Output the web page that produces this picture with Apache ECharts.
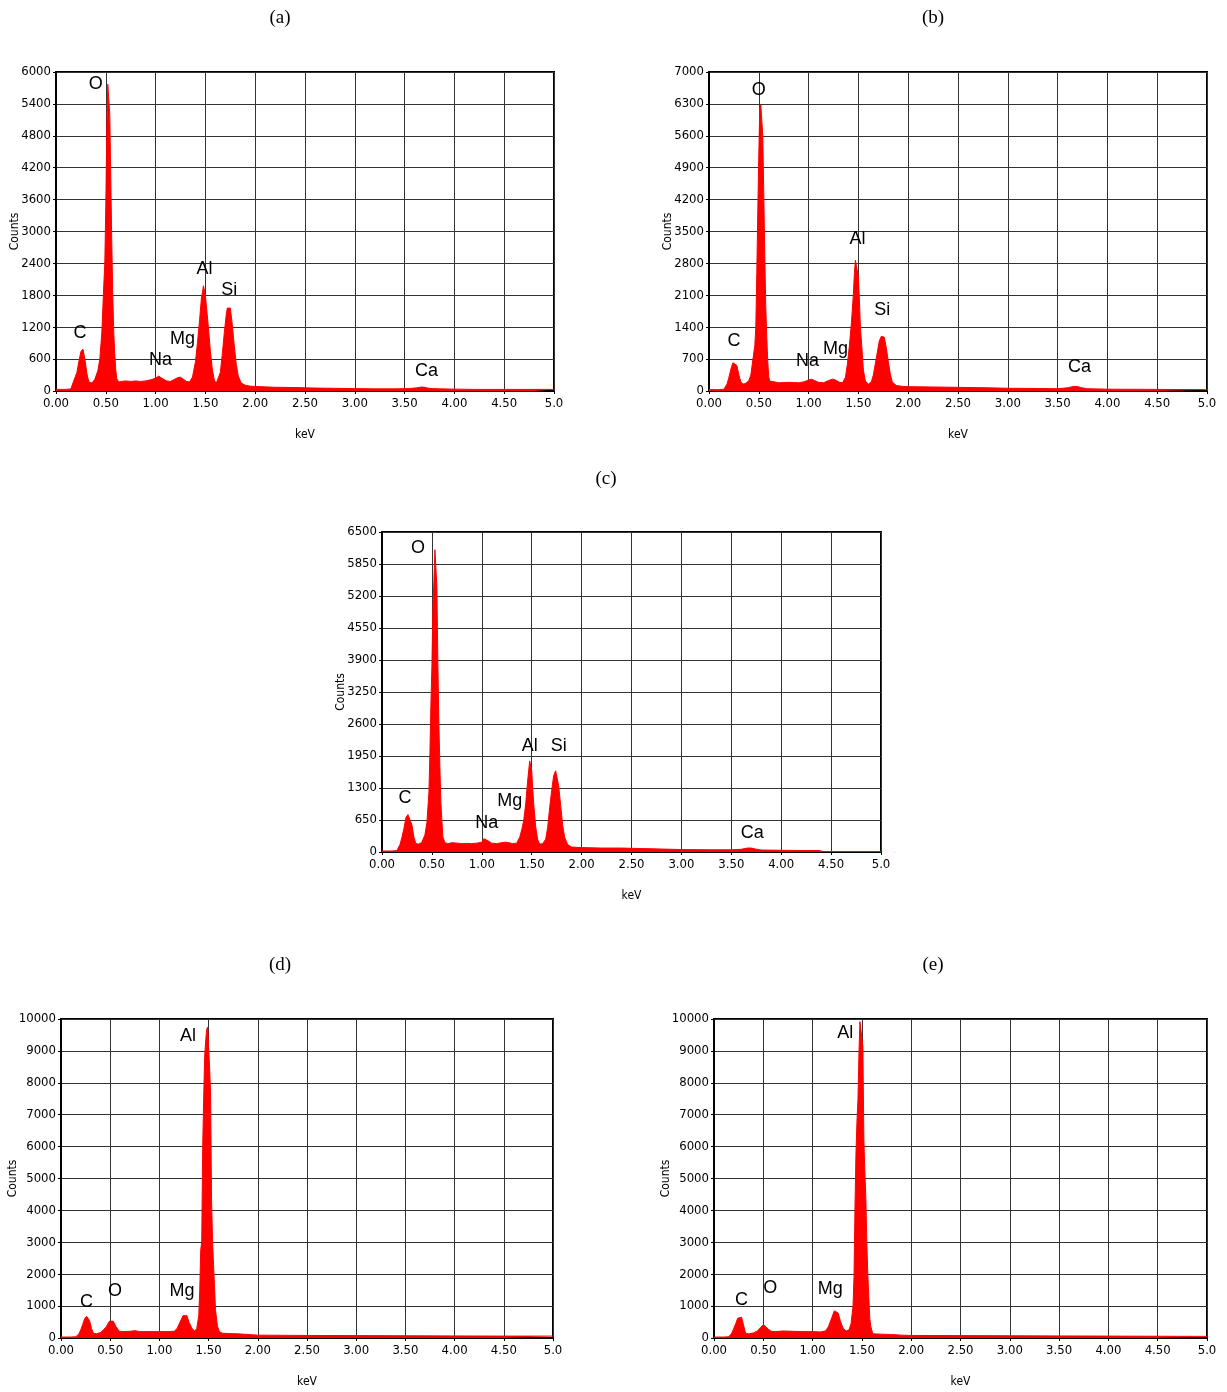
<!DOCTYPE html>
<html><head><meta charset="utf-8">
<script src="https://cdn.jsdelivr.net/npm/echarts@6/dist/echarts.min.js"></script>
<style>html,body{margin:0;padding:0;background:#fff}#c{width:1227px;height:1392px}</style>
</head><body><div id="c"></div>
<script>
// ---- Panel (a) ----
const aKeV = [0.00,0.05,0.10,0.15,0.17,0.19,0.21,0.23,0.25,0.27,0.29,0.31,0.33,0.36,0.39,0.42,0.44,0.46,0.48,0.49,0.50,0.51,0.52,0.53,0.54,0.55,0.56,0.57,0.58,0.59,0.60,0.61,0.63,0.66,0.70,0.75,0.80,0.85,0.90,0.95,1.00,1.03,1.05,1.08,1.11,1.15,1.19,1.22,1.25,1.28,1.31,1.34,1.37,1.40,1.42,1.44,1.46,1.47,1.48,1.49,1.50,1.51,1.53,1.55,1.57,1.59,1.61,1.63,1.65,1.67,1.69,1.71,1.72,1.73,1.74,1.75,1.77,1.79,1.81,1.83,1.86,1.90,1.95,2.00,2.20,2.40,2.60,2.80,3.00,3.20,3.40,3.55,3.62,3.67,3.70,3.73,3.78,3.85,4.00,4.20,4.50,4.80,5.00];
const aCounts = [30,30,30,40,150,250,350,560,740,790,600,330,170,150,220,380,600,1100,2000,2400,3500,4900,5770,5800,5200,4000,2800,1800,1100,700,400,230,170,180,190,180,190,180,190,210,240,280,270,220,190,180,220,250,260,220,180,170,260,550,900,1300,1750,1850,1980,1970,1800,1600,1200,750,400,200,150,180,350,700,1100,1450,1560,1590,1590,1560,1250,850,500,280,150,110,90,85,70,65,55,50,45,40,40,45,60,75,70,55,45,40,35,30,30,30,30];
const aLabels = [['O',0.40,5780],['C',0.24,1090],['Na',1.05,580],['Mg',1.27,980],['Al',1.49,2300],['Si',1.74,1900],['Ca',3.72,380]];

// ---- Panel (b) ----
const bKeV = [0.00,0.10,0.15,0.18,0.20,0.22,0.24,0.26,0.28,0.30,0.32,0.34,0.37,0.40,0.42,0.44,0.46,0.47,0.48,0.49,0.50,0.51,0.52,0.53,0.54,0.55,0.56,0.57,0.58,0.59,0.60,0.61,0.63,0.70,0.80,0.90,0.95,1.00,1.03,1.06,1.10,1.15,1.20,1.24,1.27,1.31,1.34,1.37,1.39,1.41,1.43,1.45,1.46,1.47,1.48,1.49,1.50,1.51,1.52,1.54,1.55,1.57,1.60,1.63,1.65,1.67,1.69,1.71,1.73,1.74,1.75,1.76,1.78,1.80,1.82,1.84,1.88,1.95,2.00,2.20,2.50,2.80,3.00,3.30,3.50,3.60,3.66,3.70,3.74,3.80,4.00,4.50,5.00];
const bCounts = [30,30,40,150,300,480,620,660,560,350,200,150,170,230,350,680,1000,1400,2600,3970,5200,6200,6280,6280,5600,4330,3000,1850,1190,650,310,220,180,180,190,180,200,240,260,230,190,180,230,260,240,190,180,300,600,1000,1500,2140,2600,2870,2890,2850,2500,2000,1400,800,460,220,150,200,350,600,850,1100,1200,1230,1230,1180,950,650,380,200,120,100,95,90,80,70,60,55,50,70,100,100,70,50,40,35,30];
const bLabels = [['O',0.50,6600],['C',0.25,1100],['Na',0.99,660],['Mg',1.27,920],['Al',1.49,3330],['Si',1.74,1780],['Ca',3.72,530]];

// ---- Panel (c) ----
const cKeV = [0.00,0.10,0.15,0.18,0.20,0.22,0.24,0.26,0.28,0.30,0.32,0.34,0.37,0.40,0.43,0.45,0.47,0.48,0.49,0.50,0.51,0.52,0.53,0.54,0.55,0.56,0.57,0.58,0.59,0.60,0.61,0.63,0.66,0.70,0.75,0.80,0.85,0.90,0.95,1.00,1.02,1.04,1.07,1.10,1.15,1.20,1.24,1.27,1.31,1.35,1.38,1.40,1.42,1.44,1.46,1.48,1.49,1.50,1.51,1.52,1.54,1.56,1.58,1.61,1.64,1.66,1.68,1.70,1.72,1.74,1.75,1.77,1.79,1.81,1.83,1.86,1.90,2.00,2.20,2.40,2.60,2.80,3.00,3.30,3.50,3.60,3.66,3.70,3.74,3.80,4.00,4.20,4.38,4.42,5.00];
const cCounts = [20,20,30,150,300,480,700,760,780,550,300,170,160,200,350,600,1200,2000,3000,3770,4950,5500,6140,6100,5400,3830,2600,1730,1000,640,300,190,170,190,180,170,175,170,180,200,270,260,220,180,170,190,200,190,170,180,300,450,640,980,1460,1850,1750,1660,1300,980,510,250,160,170,260,500,900,1250,1550,1650,1620,1350,950,550,300,150,100,90,80,80,70,60,50,45,45,55,80,80,60,40,35,30,30,10,10];
const cLabels = [['O',0.36,6170],['C',0.23,1100],['Na',1.05,590],['Mg',1.28,1040],['Al',1.48,2150],['Si',1.77,2150],['Ca',3.71,390]];

// ---- Panel (d) ----
const dKeV = [0.00,0.10,0.15,0.18,0.20,0.22,0.24,0.26,0.27,0.29,0.31,0.33,0.36,0.40,0.43,0.46,0.49,0.51,0.53,0.56,0.59,0.62,0.70,0.75,0.80,0.90,1.00,1.10,1.15,1.18,1.21,1.24,1.26,1.28,1.30,1.33,1.36,1.38,1.40,1.41,1.42,1.43,1.44,1.45,1.46,1.47,1.48,1.49,1.50,1.51,1.52,1.53,1.54,1.55,1.56,1.57,1.59,1.61,1.64,1.70,1.80,1.90,2.00,2.50,3.00,3.50,4.00,4.50,5.00];
const dCounts = [30,30,40,120,250,420,600,680,700,550,300,150,130,170,250,350,520,550,530,350,220,200,210,230,200,200,200,200,210,300,500,700,760,700,500,300,220,300,700,1500,2770,3000,6000,7520,8830,9300,9670,9750,9140,8500,7680,4340,3080,2300,1620,890,370,200,150,140,130,110,90,80,75,70,65,60,60];
const dLabels = [['Al',1.29,9470],['C',0.26,1130],['O',0.55,1470],['Mg',1.23,1470]];

// ---- Panel (e) ----
const eKeV = [0.00,0.10,0.15,0.18,0.20,0.22,0.24,0.26,0.28,0.30,0.32,0.35,0.40,0.44,0.47,0.50,0.52,0.55,0.58,0.62,0.70,0.80,0.90,1.00,1.08,1.13,1.16,1.19,1.22,1.24,1.26,1.28,1.31,1.34,1.37,1.39,1.41,1.42,1.43,1.44,1.45,1.46,1.47,1.48,1.49,1.50,1.51,1.52,1.53,1.54,1.55,1.56,1.57,1.58,1.59,1.61,1.70,1.80,1.90,2.00,2.50,3.00,3.50,4.00,4.50,5.00];
const eCounts = [30,30,40,150,300,450,620,680,650,400,150,130,160,220,320,420,410,280,210,200,220,210,200,200,190,220,350,600,850,860,780,550,300,220,260,450,1000,1930,4130,5800,6800,7470,8930,9920,9900,9880,9140,6220,5200,4390,2980,2000,1300,600,370,130,120,110,90,80,75,70,65,60,55,50];
const eLabels = [['C',0.28,1190],['O',0.57,1570],['Mg',1.18,1540],['Al',1.33,9550]];

const panels = [
  {title:'(a)', keV:aKeV, counts:aCounts, labels:aLabels, yMax:6000, yStep:600, grid:{left:56,top:72,width:498,height:319}, nameGap:35, tx:280, ty:18},
  {title:'(b)', keV:bKeV, counts:bCounts, labels:bLabels, yMax:7000, yStep:700, grid:{left:709,top:72,width:498,height:319}, nameGap:35, tx:933, ty:18},
  {title:'(c)', keV:cKeV, counts:cCounts, labels:cLabels, yMax:6500, yStep:650, grid:{left:382,top:532,width:499,height:320}, nameGap:35, tx:606, ty:479},
  {title:'(d)', keV:dKeV, counts:dCounts, labels:dLabels, yMax:10000, yStep:1000, grid:{left:61,top:1019,width:492,height:319}, nameGap:42, tx:280, ty:965},
  {title:'(e)', keV:eKeV, counts:eCounts, labels:eLabels, yMax:10000, yStep:1000, grid:{left:714,top:1019,width:493,height:319}, nameGap:42, tx:933, ty:965}
];

const narrow = "'Liberation Sans Narrow','Arial Narrow','DejaVu Sans Condensed',sans-serif";
const grids=[], xAxes=[], yAxes=[], series=[], graphics=[];
panels.forEach((p,i)=>{
  grids.push(Object.assign({show:true, borderColor:'#000', borderWidth:2, backgroundColor:'#fff', containLabel:false}, p.grid));
  xAxes.push({type:'value', gridIndex:i, min:0, max:5, interval:0.5,
    name:'keV', nameLocation:'middle', nameGap:38, nameMoveOverlap:false, nameTextStyle:{fontFamily:narrow, fontSize:12, color:'#000'},
    axisLine:{show:true, lineStyle:{color:'#000', width:1}},
    axisTick:{show:true, length:3, lineStyle:{color:'#000'}},
    axisLabel:{fontFamily:narrow, fontSize:13, color:'#000', margin:6,
      formatter:v=> v===5 ? '5.0' : v.toFixed(2)},
    splitLine:{show:true, lineStyle:{color:'#333', width:1}}});
  yAxes.push({type:'value', gridIndex:i, min:0, max:p.yMax, interval:p.yStep,
    name:'Counts', nameLocation:'middle', nameRotate:90, nameGap:p.nameGap, nameMoveOverlap:false, nameTextStyle:{fontFamily:narrow, fontSize:12, color:'#000'},
    axisLine:{show:true, lineStyle:{color:'#000', width:1}},
    axisTick:{show:true, length:3, lineStyle:{color:'#000'}},
    axisLabel:{fontFamily:narrow, fontSize:13, color:'#000', margin:5, formatter:v=>String(v)},
    splitLine:{show:true, lineStyle:{color:'#333', width:1}}});
  series.push({type:'line', xAxisIndex:i, yAxisIndex:i, showSymbol:false, symbol:'none',
    data:p.keV.map((k,j)=>[k,p.counts[j]]),
    lineStyle:{color:'#ff0000', width:1}, areaStyle:{color:'#ff0000', opacity:1}, z:3, silent:true});
  series.push({type:'scatter', xAxisIndex:i, yAxisIndex:i, symbolSize:1, itemStyle:{color:'transparent'}, z:5, silent:true,
    data:p.labels.map(l=>({name:l[0], value:[l[1],l[2]]})),
    label:{show:true, position:'inside', formatter:'{b}', color:'#000', opacity:1, textBorderWidth:0, fontSize:18, fontFamily:"'Liberation Sans',Arial,sans-serif"}});
  graphics.push({type:'text', x:p.tx, y:p.ty, style:{text:p.title, fill:'#000', font:"19px 'Liberation Serif','Times New Roman',serif", textAlign:'center', textVerticalAlign:'middle'}});
});

const chart = echarts.init(document.getElementById('c'), null, {renderer:'canvas'});
chart.setOption({animation:false, backgroundColor:'#fff', grid:grids, xAxis:xAxes, yAxis:yAxes, series:series, graphic:graphics});
</script></body></html>
